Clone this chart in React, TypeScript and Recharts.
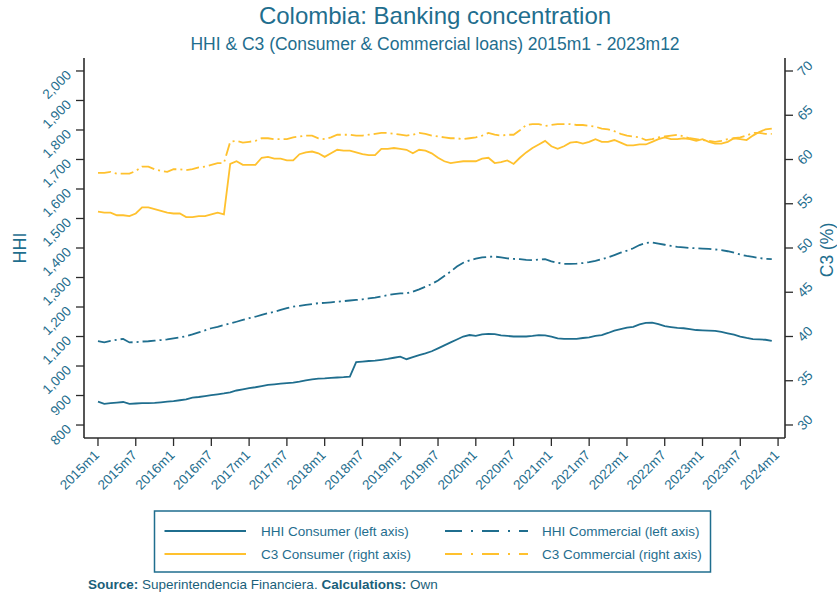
import React from "react";
import { LineChart, Line, XAxis, YAxis } from "recharts";

const TEAL = "#1f6e8e";
const GOLD = "#ffc12e";
const FRAME = "#2b2b2b";
const FONT = "'Liberation Sans', Arial, sans-serif";

// Monthly observations 2015m1 .. 2023m12
const hhiConsumer = [
  879, 872, 874, 876, 878, 872, 873, 874, 874, 875, 877, 879,
  881, 884, 887, 893, 895, 898, 901, 904, 907, 911, 917, 921,
  925, 928, 932, 936, 938, 940, 942, 944, 947, 951, 955, 957,
  958, 960, 961, 962, 964, 1013, 1015, 1017, 1018, 1021, 1024, 1028,
  1032, 1023, 1030, 1037, 1043, 1050, 1060, 1070, 1080, 1090, 1100, 1105,
  1102, 1107, 1109, 1108, 1104, 1102, 1100, 1100, 1100, 1102, 1105, 1104,
  1100, 1094, 1092, 1092, 1092, 1095, 1097, 1102, 1105, 1112, 1120, 1125,
  1130, 1133, 1141, 1146, 1147, 1142, 1135, 1132, 1129, 1128, 1125, 1122,
  1121, 1120, 1119, 1116, 1111, 1106, 1100, 1095, 1091, 1090, 1089, 1085,
];

const hhiCommercial = [
  1084, 1080, 1085, 1089, 1092, 1080, 1081, 1083, 1084, 1086, 1088, 1090,
  1094, 1097, 1101, 1107, 1114, 1121, 1128, 1133, 1139, 1144, 1150, 1156,
  1162, 1167, 1173, 1179, 1184, 1190, 1196, 1201, 1204, 1207, 1210, 1213,
  1214, 1216, 1218, 1220, 1222, 1224, 1226, 1229, 1232, 1236, 1240, 1244,
  1246, 1246, 1252, 1260, 1269, 1278, 1290, 1305, 1320, 1337, 1350, 1358,
  1364, 1368, 1370, 1371, 1368, 1365, 1363, 1362, 1360, 1359, 1361, 1362,
  1355, 1350, 1346, 1346, 1347, 1349, 1352, 1356, 1362, 1368, 1376, 1384,
  1391, 1399, 1410, 1417, 1419, 1415, 1411, 1407, 1404, 1402, 1400, 1399,
  1398, 1397, 1395, 1393, 1389, 1384, 1378, 1373, 1370, 1366, 1363, 1362,
];

const c3Consumer = [
  54.1, 54.0, 54.0, 53.7, 53.7, 53.6, 53.9, 54.6, 54.6, 54.4, 54.2, 54.0,
  53.9, 53.9, 53.5, 53.5, 53.6, 53.6, 53.8, 54.0, 53.8, 59.5, 59.8, 59.4,
  59.4, 59.4, 60.2, 60.3, 60.1, 60.1, 59.9, 59.9, 60.6, 60.8, 60.9, 60.7,
  60.3, 60.7, 61.1, 61.0, 61.0, 60.8, 60.6, 60.5, 60.5, 61.2, 61.2, 61.3,
  61.2, 61.1, 60.7, 61.1, 61.0, 60.7, 60.2, 59.8, 59.6, 59.7, 59.8, 59.8,
  59.8, 60.1, 60.2, 59.6, 59.7, 59.9, 59.5, 60.2, 60.8, 61.3, 61.7, 62.1,
  61.5, 61.2, 61.5, 61.9, 62.0, 61.8, 62.0, 62.3, 62.0, 62.0, 62.2, 61.9,
  61.6, 61.6, 61.7, 61.7, 62.0, 62.3, 62.5, 62.3, 62.3, 62.4, 62.3, 62.1,
  62.3, 62.0, 61.8, 61.8, 62.0, 62.4, 62.3, 62.2, 62.7, 63.1, 63.4, 63.5,
];

const c3Commercial = [
  58.5, 58.5, 58.6, 58.4, 58.4, 58.4, 58.7, 59.2, 59.2, 58.9, 58.7, 58.6,
  58.9, 58.9, 58.8, 58.9, 59.1, 59.2, 59.4, 59.6, 59.6, 62.0, 62.1, 61.9,
  62.0, 62.1, 62.4, 62.4, 62.3, 62.3, 62.3, 62.5, 62.6, 62.7, 62.7, 62.4,
  62.3, 62.5, 62.8, 62.8, 62.8, 62.7, 62.7, 62.8, 62.9, 63.0, 63.0, 62.9,
  62.8, 62.7, 62.8, 63.0, 62.9, 62.7, 62.6, 62.5, 62.4, 62.4, 62.3, 62.4,
  62.5, 62.7, 63.0, 62.8, 62.7, 62.8, 62.8, 63.3, 63.9, 64.0, 64.0, 63.8,
  63.9, 64.0, 64.0, 64.0, 63.9, 63.9, 63.8, 63.7, 63.5, 63.4, 63.2, 62.9,
  62.7, 62.6, 62.5, 62.2, 62.3, 62.5, 62.6, 62.7, 62.8, 62.6, 62.4, 62.3,
  62.2, 62.1, 62.0, 62.1, 62.3, 62.4, 62.5, 62.7, 63.0, 63.0, 62.9, 62.9,
];

const xTickLabels = [
  "2015m1", "2015m7", "2016m1", "2016m7", "2017m1", "2017m7", "2018m1",
  "2018m7", "2019m1", "2019m7", "2020m1", "2020m7", "2021m1", "2021m7",
  "2022m1", "2022m7", "2023m1", "2023m7", "2024m1",
];
const xTickValues = xTickLabels.map((_, k) => k * 6);
const leftTicks = [800, 900, 1000, 1100, 1200, 1300, 1400, 1500, 1600, 1700, 1800, 1900, 2000];
const rightTicks = [30, 35, 40, 45, 50, 55, 60, 65, 70];

const data = hhiConsumer.map((v, i) => ({
  t: i,
  hhiCons: v,
  hhiComm: hhiCommercial[i],
  c3Cons: c3Consumer[i],
  c3Comm: c3Commercial[i],
}));

const fmtThousands = (v: number) => v.toLocaleString("en-US");

const XTick = (props: any) => {
  const { x, y, payload } = props;
  const idx = xTickValues.indexOf(payload.value);
  const label = idx >= 0 ? xTickLabels[idx] : "";
  const ax = x + 2;
  const ay = y + 10;
  return (
    <text x={ax} y={ay} transform={`rotate(-45, ${ax}, ${ay})`} textAnchor="end"
      fill={TEAL} fontSize={13.5} fontFamily={FONT}>{label}</text>
  );
};

const LeftTick = (props: any) => {
  const { x, y, payload } = props;
  const ax = x - 4;
  const ay = y + 5;
  return (
    <text x={ax} y={ay} transform={`rotate(-45, ${ax}, ${ay})`} textAnchor="end"
      fill={TEAL} fontSize={13.5} fontFamily={FONT}>{fmtThousands(payload.value)}</text>
  );
};

const RightTick = (props: any) => {
  const { x, y, payload } = props;
  const ax = x + 10;
  const ay = y + 6;
  return (
    <text x={ax} y={ay} transform={`rotate(-45, ${ax}, ${ay})`} textAnchor="start"
      fill={TEAL} fontSize={13.5} fontFamily={FONT}>{payload.value}</text>
  );
};

const DASHDOT_PLOT = "13 4 2 4";
const DASHDOT_LEGEND = "17 9 2 9";

export default function App() {
  return (
    <div style={{ position: "absolute", left: 0, top: 0, width: 837, height: 596, background: "#fff" }}>
      <LineChart
        width={837}
        height={596}
        data={data}
        margin={{ top: 58, right: 0, bottom: 98, left: 0 }}
      >
        <XAxis
          xAxisId="bottom"
          dataKey="t"
          type="number"
          domain={[-2.22, 109.1]}
          allowDataOverflow
          ticks={xTickValues}
          interval={0}
          height={60}
          tickSize={8}
          tickMargin={0}
          tick={<XTick />}
          axisLine={{ stroke: FRAME, strokeWidth: 1.6 }}
          tickLine={{ stroke: FRAME, strokeWidth: 1.3 }}
        />
        <XAxis
          xAxisId="top"
          orientation="top"
          dataKey="t"
          type="number"
          domain={[-2.22, 109.1]}
          allowDataOverflow
          height={0}
          tick={false}
          tickLine={false}
          axisLine={{ stroke: FRAME, strokeWidth: 1.6 }}
        />
        <YAxis
          yAxisId="left"
          type="number"
          domain={[756, 2044]}
          allowDataOverflow
          ticks={leftTicks}
          interval={0}
          width={84}
          tickSize={8}
          tickMargin={0}
          tick={<LeftTick />}
          axisLine={{ stroke: FRAME, strokeWidth: 1.6 }}
          tickLine={{ stroke: FRAME, strokeWidth: 1.3 }}
        />
        <YAxis
          yAxisId="right"
          orientation="right"
          type="number"
          domain={[28.53, 71.47]}
          allowDataOverflow
          ticks={rightTicks}
          interval={0}
          width={52}
          tickSize={8}
          tickMargin={0}
          tick={<RightTick />}
          axisLine={{ stroke: FRAME, strokeWidth: 1.6 }}
          tickLine={{ stroke: FRAME, strokeWidth: 1.3 }}
        />
        <Line xAxisId="bottom" yAxisId="right" dataKey="c3Comm" type="linear" stroke={GOLD}
          strokeWidth={1.8} strokeDasharray={DASHDOT_PLOT} dot={false} isAnimationActive={false} />
        <Line xAxisId="bottom" yAxisId="right" dataKey="c3Cons" type="linear" stroke={GOLD}
          strokeWidth={1.8} dot={false} isAnimationActive={false} />
        <Line xAxisId="bottom" yAxisId="left" dataKey="hhiComm" type="linear" stroke={TEAL}
          strokeWidth={1.8} strokeDasharray={DASHDOT_PLOT} dot={false} isAnimationActive={false} />
        <Line xAxisId="bottom" yAxisId="left" dataKey="hhiCons" type="linear" stroke={TEAL}
          strokeWidth={1.8} dot={false} isAnimationActive={false} />
      </LineChart>

      <svg width={837} height={596} style={{ position: "absolute", left: 0, top: 0, pointerEvents: "none" }}>
        <text x={435} y={24} textAnchor="middle" fill={TEAL} fontSize={24} fontFamily={FONT}>
          Colombia: Banking concentration
        </text>
        <text x={435} y={50} textAnchor="middle" fill={TEAL} fontSize={17.5} fontFamily={FONT}>
          HHI &amp; C3 (Consumer &amp; Commercial loans) 2015m1 - 2023m12
        </text>
        <text x={26} y={248} transform="rotate(-90, 26, 248)" textAnchor="middle" fill={TEAL}
          fontSize={18} fontFamily={FONT}>HHI</text>
        <text x={833} y={250} transform="rotate(-90, 833, 250)" textAnchor="middle" fill={TEAL}
          fontSize={17.5} fontFamily={FONT}>C3 (%)</text>

        <rect x={154.5} y={511} width={556} height={61} fill="none" stroke={TEAL} strokeWidth={1.5} />
        <line x1={164.5} y1={531} x2={246} y2={531} stroke={TEAL} strokeWidth={1.8} />
        <text x={261} y={535.5} fill={TEAL} fontSize={13.5} fontFamily={FONT}>HHI Consumer (left axis)</text>
        <line x1={445} y1={531} x2={528} y2={531} stroke={TEAL} strokeWidth={1.8} strokeDasharray={DASHDOT_LEGEND} />
        <text x={542} y={535.5} fill={TEAL} fontSize={13.5} fontFamily={FONT}>HHI Commercial (left axis)</text>
        <line x1={164.5} y1={554} x2={246} y2={554} stroke={GOLD} strokeWidth={1.8} />
        <text x={261} y={558.5} fill={TEAL} fontSize={13.5} fontFamily={FONT}>C3 Consumer (right axis)</text>
        <line x1={445} y1={554} x2={528} y2={554} stroke={GOLD} strokeWidth={1.8} strokeDasharray={DASHDOT_LEGEND} />
        <text x={542} y={558.5} fill={TEAL} fontSize={13.5} fontFamily={FONT}>C3 Commercial (right axis)</text>

        <text x={88} y={589} fill="#1a5f7a" fontSize={13.5} fontFamily={FONT}>
          <tspan fontWeight="bold">Source:</tspan> Superintendencia Financiera. <tspan fontWeight="bold">Calculations:</tspan> Own
        </text>
      </svg>
    </div>
  );
}
